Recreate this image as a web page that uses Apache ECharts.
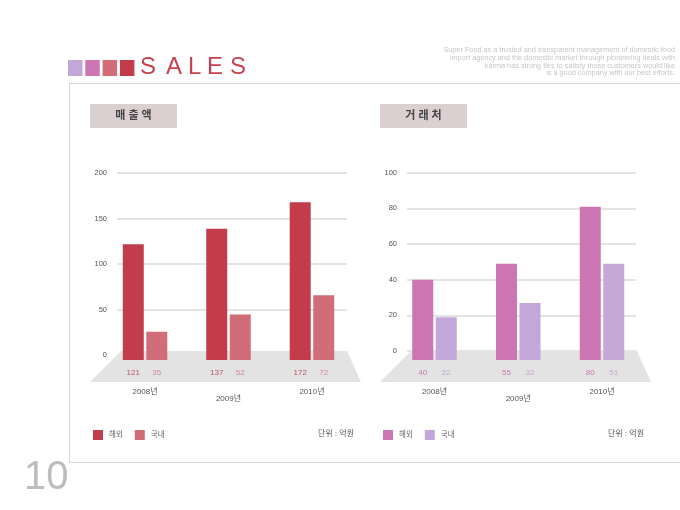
<!DOCTYPE html>
<html lang="ko">
<head>
    <meta charset="UTF-8">
    <title>SALES</title>
    <script src="https://cdn.jsdelivr.net/npm/echarts@6/dist/echarts.min.js"></script>
    <style>
        body { margin: 0; background: #fff; }
    </style>
</head>
<body>
<div id="main" style="width: 680px;height: 510px"></div>

<script>
    // categories and values
    const years = ['2008년', '2009년', '2010년'];
    const seriesNames = ['해외', '국내'];

    // 매출액 (bar heights as drawn, and the numbers printed under them)
    const salesOverseas = [127, 144, 173];
    const salesDomestic = [31, 50, 71];
    const salesOverseasLabels = ['121', '137', '172'];
    const salesDomesticLabels = ['35', '52', '72'];
    const salesTicks = [0, 200, 50];

    // 거래처
    const clientsOverseas = [45, 54, 86];
    const clientsDomestic = [24, 32, 54];
    const clientsOverseasLabels = ['40', '55', '80'];
    const clientsDomesticLabels = ['22', '32', '51'];
    const clientsTicks = [0, 100, 20];

    const blurb = [
        'Super Food as a trusted and transparent management of domestic food',
        'import agency and the domestic market through pioneering deals with',
        'karma has strong ties to satisfy those customers would like',
        'is a good company with our best efforts.'
    ];

    const FONT = "Arial, 'Liberation Sans', 'Noto Sans CJK KR', sans-serif";
    const red = '#c23c4c', rose = '#d16d78', pink = '#cb76b3', lilac = '#c3a7d8';

    const chartDom = document.getElementById('main');
    const myChart = echarts.init(chartDom, null, {renderer: 'canvas'});

    function tickAxis(grid, t) {
        return {
            gridIndex: grid, type: 'value', min: t[0], max: t[1], interval: t[2],
            axisLine: {show: false}, axisTick: {show: false},
            axisLabel: {color: '#555', fontSize: 7.5, fontFamily: FONT, margin: 10},
            splitLine: {lineStyle: {color: '#e4e4e4', width: 2}}
        };
    }

    function barAxis(grid, max) {
        return {gridIndex: grid, type: 'value', min: 0, max: max, show: false, splitLine: {show: false}};
    }

    function yearAxis(grid) {
        return {
            gridIndex: grid, type: 'category', data: years,
            axisLine: {show: false}, axisTick: {show: false},
            axisLabel: {
                color: '#555', fontSize: 8, fontFamily: FONT, margin: 28,
                formatter: function (v, i) {
                    return i === 1 ? '{low|' + v + '}' : v;
                },
                rich: {low: {padding: [7, 0, 0, 0], color: '#555', fontSize: 8, fontFamily: FONT}}
            }
        };
    }

    function barSeries(name, axis, data, labels, color, labelColor) {
        return {
            name: name, type: 'bar', xAxisIndex: axis, yAxisIndex: axis,
            data: data, barWidth: 21, barGap: '12%',
            itemStyle: {color: color},
            label: {
                show: true, position: 'bottom', distance: 9,
                color: labelColor, fontSize: 8, fontFamily: FONT,
                formatter: function (p) { return labels[p.dataIndex]; }
            }
        };
    }

    function legend(left, c1, c2) {
        return {
            left: left, top: 430, padding: 0, icon: 'rect', itemWidth: 10, itemHeight: 10, itemGap: 12,
            selectedMode: false,
            textStyle: {color: '#666', fontSize: 7.5, fontFamily: FONT, padding: [0, 0, 0, 1]},
            data: [
                {name: seriesNames[0], itemStyle: {color: c1}},
                {name: seriesNames[1], itemStyle: {color: c2}}
            ]
        };
    }

    const squares = [lilac, pink, rose, red].map(function (c, i) {
        return {type: 'rect', shape: {x: 68 + i * 17.3, y: 60, width: 14.5, height: 16}, style: {fill: c}};
    });
    const titleX = [140, 166, 188, 207, 230];
    const titleLetters = 'SALES'.split('').map(function (ch, i) {
        return {
            type: 'text', x: titleX[i], y: 67,
            style: {text: ch, fill: '#c8414f', font: '24px ' + FONT, textVerticalAlign: 'middle'}
        };
    });

    function header(x, text) {
        return [
            {type: 'rect', shape: {x: x, y: 104, width: 87, height: 24}, style: {fill: '#dccfd1'}},
            {
                type: 'text', x: x + 43.5, y: 116,
                style: {text: text, fill: '#444', font: 'bold 11px ' + FONT, textAlign: 'center', textVerticalAlign: 'middle'}
            }
        ];
    }

    function floor(dx) {
        return {
            type: 'polygon', z: 1,
            shape: {points: [[121 + dx, 351], [347 + dx, 351], [361 + dx, 382], [90 + dx, 382]]},
            style: {fill: '#e3e3e3'}
        };
    }

    function unit(right) {
        return {
            type: 'text', x: right, y: 434,
            style: {text: '단위 : 억원', fill: '#555', font: '8px ' + FONT, textAlign: 'right', textVerticalAlign: 'middle'}
        };
    }

    let option = {
        animation: false,
        graphic: [].concat(
            squares,
            titleLetters,
            [{
                type: 'text', x: 675, y: 46,
                style: {text: blurb.join('\n'), fill: '#c6c6c6', font: '7.3px ' + FONT, textAlign: 'right', lineHeight: 7.8}
            },
                {type: 'rect', shape: {x: 69.5, y: 83.5, width: 700, height: 379}, style: {fill: 'none', stroke: '#d6d6d6', lineWidth: 1}},
                {
                    type: 'text', x: 24, y: 478,
                    style: {text: '10', fill: '#bdbdbd', font: '40px ' + FONT, textVerticalAlign: 'middle'}
                }],
            header(90, '매 출 액'),
            header(380, '거 래 처'),
            [floor(0), floor(290), unit(354), unit(644)]
        ),
        grid: [
            {left: 117, right: 333, top: 173, bottom: 154.7},
            {left: 103.3, right: 326.3, top: 173, bottom: 150},
            {left: 407, right: 44, top: 172.7, bottom: 159},
            {left: 392.6, right: 36.1, top: 173, bottom: 150}
        ],
        xAxis: [
            {gridIndex: 0, type: 'value', show: false, splitLine: {show: false}},
            yearAxis(1),
            {gridIndex: 2, type: 'value', show: false, splitLine: {show: false}},
            yearAxis(3)
        ],
        yAxis: [
            tickAxis(0, salesTicks),
            barAxis(1, 205),
            tickAxis(2, clientsTicks),
            barAxis(3, 105)
        ],
        legend: [legend(93, red, rose), legend(383, pink, lilac)],
        series: [
            barSeries(seriesNames[0], 1, salesOverseas, salesOverseasLabels, red, '#b85766'),
            barSeries(seriesNames[1], 1, salesDomestic, salesDomesticLabels, rose, '#d08793'),
            barSeries(seriesNames[0], 3, clientsOverseas, clientsOverseasLabels, pink, '#c679ae'),
            barSeries(seriesNames[1], 3, clientsDomestic, clientsDomesticLabels, lilac, '#c4a8d6')
        ]
    };

    option && myChart.setOption(option);
</script>
</body>
</html>
